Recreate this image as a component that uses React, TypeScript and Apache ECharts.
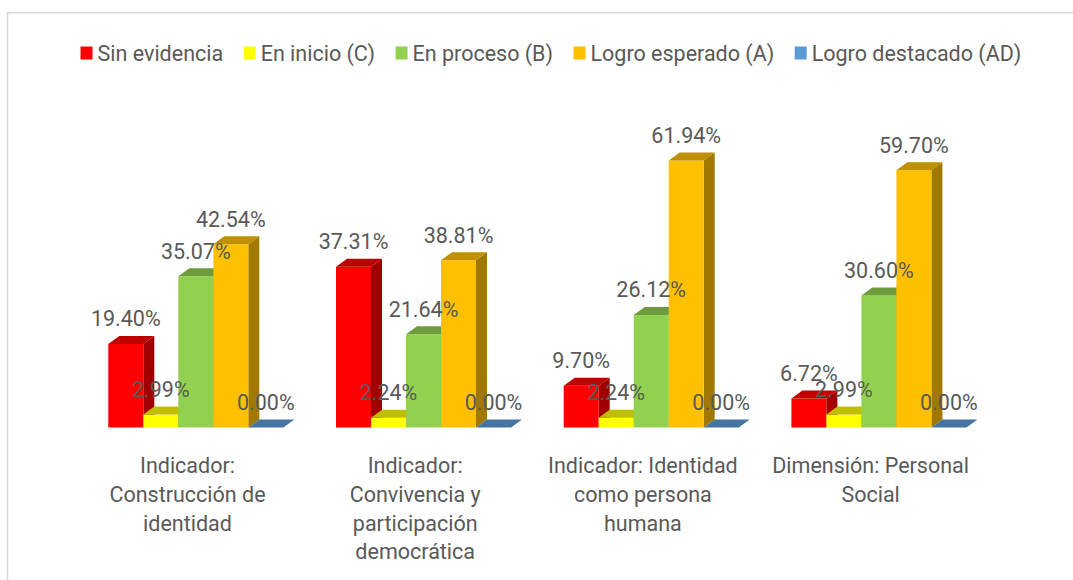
import React, { useEffect, useRef } from "react";
import * as echarts from "echarts";

const categories = [
  "Indicador:\nConstrucción de\nidentidad",
  "Indicador:\nConvivencia y\nparticipación\ndemocrática",
  "Indicador: Identidad\ncomo persona\nhumana",
  "Dimensión: Personal\nSocial",
];
const seriesNames = [
  "Sin evidencia",
  "En inicio (C)",
  "En proceso (B)",
  "Logro esperado (A)",
  "Logro destacado (AD)",
];
const seriesColors = ["#FF0000", "#FFFF00", "#92D050", "#FFC000", "#5B9BD5"];
const sinEvidencia = [19.4, 37.31, 9.7, 6.72];
const enInicio = [2.99, 2.24, 2.24, 2.99];
const enProceso = [35.07, 21.64, 26.12, 30.6];
const logroEsperado = [42.54, 38.81, 61.94, 59.7];
const logroDestacado = [0, 0, 0, 0];
const seriesValues = [sinEvidencia, enInicio, enProceso, logroEsperado, logroDestacado];

const FONT = "Roboto";
const TEXT = "#595959";
const FS = 21.5;

function shade(hex: string, f: number) {
  const n = parseInt(hex.slice(1), 16);
  const r = Math.round(((n >> 16) & 255) * f);
  const g = Math.round(((n >> 8) & 255) * f);
  const b = Math.round((n & 255) * f);
  return `rgb(${r},${g},${b})`;
}

export default function App() {
  const ref = useRef<HTMLDivElement>(null);
  useEffect(() => {
    if (!ref.current) return;
    const chart = echarts.init(ref.current, undefined, { renderer: "svg" });
    const series = seriesNames.map((name, sIdx) => {
      const color = seriesColors[sIdx];
      return {
        name,
        type: "custom",
        clip: false,
        itemStyle: { color },
        data: seriesValues[sIdx].map((v, i) => [i, v]),
        renderItem: (params: any, api: any) => {
          const ci = api.value(0);
          const v = api.value(1);
          const base = api.coord([ci, 0]);
          const topP = api.coord([ci, v]);
          const band = api.size([1, 0])[0];
          const bw = (band * 35) / 227.7;
          const dx = 11;
          const dy = 8;
          const groupLeft = base[0] - (band * 79.2) / 227.7;
          const x = groupLeft + sIdx * bw;
          const yTop = topP[1];
          const yBase = base[1];
          const children: any[] = [];
          if (yBase - yTop > 0.5) {
            children.push({
              type: "polygon",
              shape: {
                points: [
                  [x + bw, yTop],
                  [x + bw + dx, yTop - dy],
                  [x + bw + dx, yBase - dy],
                  [x + bw, yBase],
                ],
              },
              style: { fill: shade(color, 0.63) },
            });
            children.push({
              type: "rect",
              shape: { x, y: yTop, width: bw, height: yBase - yTop },
              style: { fill: color },
            });
          }
          children.push({
            type: "polygon",
            shape: {
              points: [
                [x, yTop],
                [x + bw, yTop],
                [x + bw + dx, yTop - dy],
                [x + dx, yTop - dy],
              ],
            },
            style: { fill: shade(color, 0.75) },
          });
          children.push({
            type: "text",
            z2: 100,
            x: x + bw / 2,
            y: yTop - 25,
            style: {
              text: v.toFixed(2) + "%",
              fill: TEXT,
              font: `${FS}px ${FONT}`,
              align: "center",
              verticalAlign: "middle",
            },
          });
          return { type: "group", children };
        },
      };
    });
    chart.setOption({
      animation: false,
      backgroundColor: "#ffffff",
      graphic: [
        {
          type: "rect",
          silent: true,
          shape: { x: 7.5, y: 12.75, width: 1200, height: 700 },
          style: { fill: "none", stroke: "#D9D9D9", lineWidth: 1.5 },
        },
      ],
      legend: {
        data: seriesNames.map((n) => ({ name: n, icon: "rect" })),
        left: 80.5,
        top: 42,
        padding: 0,
        itemWidth: 12,
        itemHeight: 13,
        itemGap: 20.5,
        textStyle: { fontSize: FS, color: TEXT, fontFamily: FONT },
      },
      grid: {
        left: 73.65,
        right: 88.55,
        top: 125.8,
        bottom: 152.5,
        containLabel: false,
        outerBoundsMode: "none",
      },
      xAxis: {
        type: "category",
        data: categories,
        axisLine: { show: false },
        axisTick: { show: false },
        splitLine: { show: false },
        axisLabel: {
          interval: 0,
          margin: 24,
          fontSize: FS,
          lineHeight: 28.7,
          color: TEXT,
          fontFamily: FONT,
        },
      },
      yAxis: {
        type: "value",
        min: 0,
        max: 70,
        show: false,
        splitLine: { show: false },
      },
      series,
    } as any);
    return () => chart.dispose();
  }, []);
  return (
    <div
      ref={ref}
      style={{ position: "absolute", left: 0, top: 0, width: 1073, height: 580, background: "#fff" }}
    />
  );
}
